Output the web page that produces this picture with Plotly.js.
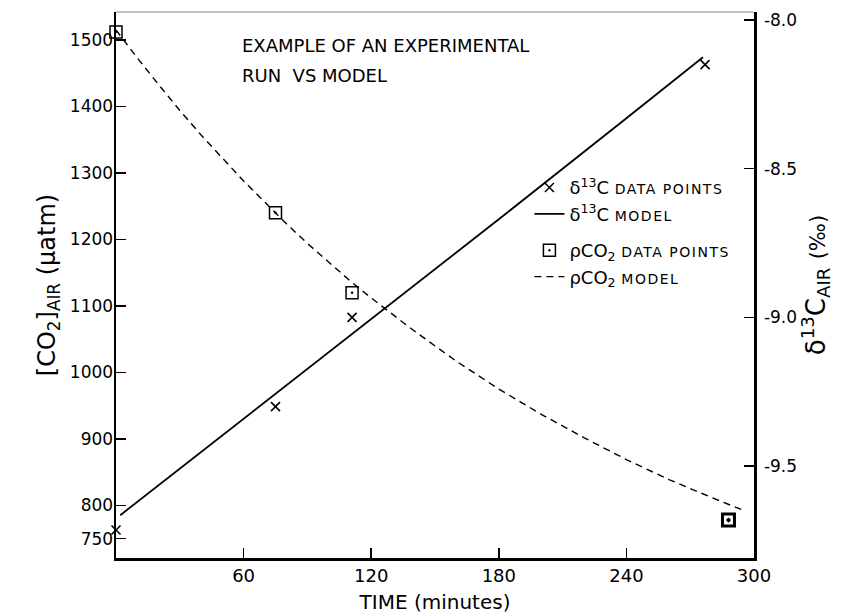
<!DOCTYPE html>
<html>
<head>
<meta charset="utf-8">
<script src="https://cdn.plot.ly/plotly-3.0.1.min.js"></script>
<style>html,body{margin:0;padding:0;background:#fff;}#chart{width:848px;height:616px;}</style>
</head>
<body>
<div id="chart"></div>
<script>
// pCO2 data points (time in minutes, [CO2] in uatm)
const pco2Time = [0, 75, 111, 288];
const pco2Value = [1512, 1240, 1120, 778];
// pCO2 model curve
const pco2ModelTime = [0, 10, 20, 30, 40, 50, 60, 70, 80, 90, 100, 110, 120, 140, 160, 180, 200, 220, 240, 260, 280, 294];
const pco2ModelValue = [1515, 1473, 1433, 1394, 1357, 1322, 1288, 1256, 1224, 1194, 1166, 1138, 1112, 1063, 1017, 975, 937, 902, 869, 839, 812, 794];
// d13C data points (permil)
const d13Time = [0, 75, 111, 277];
const d13Value = [-9.715, -9.30, -9.00, -8.15];
// d13C model line
const d13ModelTime = [2, 60, 120, 180, 240, 276];
const d13ModelValue = [-9.665, -9.34, -9.005, -8.67, -8.33, -8.125];
// axis ticks
const xTicks = [60, 120, 180, 240, 300];
const leftTicks = [750, 800, 900, 1000, 1100, 1200, 1300, 1400, 1500];
const rightTicks = [-8.0, -8.5, -9.0, -9.5];
const rightTickText = ['-8.0', '-8.5', '-9.0', '-9.5'];

const FONT = '"DejaVu Sans", Lato, sans-serif';
const small = t => '<span style="font-size:14px;letter-spacing:1.5px">' + t + '</span>';

const traces = [
  {x: d13Time, y: d13Value, yaxis: 'y2', mode: 'markers', type: 'scatter', cliponaxis: false,
   name: 'δ<sup>13</sup>C ' + small('DATA POINTS'), legendgroup: 'a',
   marker: {symbol: 'x-thin', size: 9, color: 'black', line: {width: 1.6, color: 'black'}}},
  {x: d13ModelTime, y: d13ModelValue, yaxis: 'y2', mode: 'lines', type: 'scatter',
   name: 'δ<sup>13</sup>C ' + small('MODEL'), legendgroup: 'a',
   line: {color: 'black', width: 1.8}},
  {x: pco2Time, y: pco2Value, mode: 'markers', type: 'scatter', cliponaxis: false,
   name: 'ρCO<sub>2</sub> ' + small('DATA POINTS'), legendgroup: 'b',
   marker: {symbol: 'square-dot', size: 12, color: 'white', line: {width: 1.5, color: 'black'}}},
  {x: pco2Time.slice(3), y: pco2Value.slice(3), mode: 'markers', type: 'scatter', cliponaxis: false,
   showlegend: false, legendgroup: 'b',
   marker: {symbol: 'square-dot', size: 12, color: 'white', line: {width: 3, color: 'black'}}},
  {x: pco2ModelTime, y: pco2ModelValue, mode: 'lines', type: 'scatter',
   name: 'ρCO<sub>2</sub> ' + small('MODEL'), legendgroup: 'b',
   line: {color: 'black', width: 1.4, dash: '7px,5px'}}
];

const layout = {
  width: 848, height: 616,
  margin: {l: 116, r: 94, t: 12, b: 58},
  paper_bgcolor: 'white', plot_bgcolor: 'white',
  font: {family: FONT, color: 'black', size: 16},
  showlegend: true,
  legend: {x: 0.648, y: 0.712, xanchor: 'left', yanchor: 'top', bgcolor: 'rgba(0,0,0,0)',
           font: {size: 18, family: FONT}, tracegroupgap: 10, itemwidth: 30},
  xaxis: {range: [0, 300], tickvals: xTicks, ticktext: xTicks.map(String),
          ticks: 'inside', ticklen: 10, tickwidth: 1.5, tickcolor: 'black',
          showline: true, linewidth: 2.5, linecolor: 'black', showgrid: false, zeroline: false,
          tickfont: {size: 18},
          title: {text: 'TIME (minutes)', font: {size: 20}, standoff: 10}},
  yaxis: {range: [721, 1542], tickvals: leftTicks, ticktext: leftTicks.map(String),
          ticks: 'inside', ticklen: 10, tickwidth: 1.5, tickcolor: 'black',
          showline: true, linewidth: 2.5, linecolor: 'black', showgrid: false, zeroline: false,
          tickfont: {size: 17}, ticklabelstandoff: -3,
          title: {text: '[CO<sub>2</sub>]<sub>AIR</sub> (μatm)', font: {size: 24}, standoff: 8}},
  yaxis2: {overlaying: 'y', side: 'right', range: [-9.809, -7.973], tickvals: rightTicks, ticktext: rightTickText,
           ticks: 'inside', ticklen: 10, tickwidth: 1.5, tickcolor: 'black',
           showline: true, linewidth: 2.5, linecolor: 'black', showgrid: false, zeroline: false,
           tickfont: {size: 17}, ticklabelstandoff: 4,
           title: {text: 'δ<sup>13</sup>C<sub>AIR</sub> <span style="font-size:21px">(‰)</span>', font: {size: 26}, standoff: 6}},
  shapes: [
    {type: 'line', xref: 'paper', yref: 'paper', x0: 0, x1: 1, y0: 1, y1: 1, line: {color: '#888', width: 1}}
  ],
  annotations: [
    {xref: 'paper', yref: 'paper', x: (240 - 116) / 638, y: (558 - 45) / 546, xanchor: 'left', yanchor: 'middle',
     align: 'left', showarrow: false, font: {size: 18, family: FONT},
     text: 'EXAMPLE OF AN EXPERIMENTAL'},
    {xref: 'paper', yref: 'paper', x: (240 - 116) / 638, y: (558 - 75) / 546, xanchor: 'left', yanchor: 'middle',
     align: 'left', showarrow: false, font: {size: 18, family: FONT},
     text: 'RUN  VS MODEL'}
  ]
};

Plotly.newPlot('chart', traces, layout, {displayModeBar: false, staticPlot: true});
</script>
</body>
</html>
